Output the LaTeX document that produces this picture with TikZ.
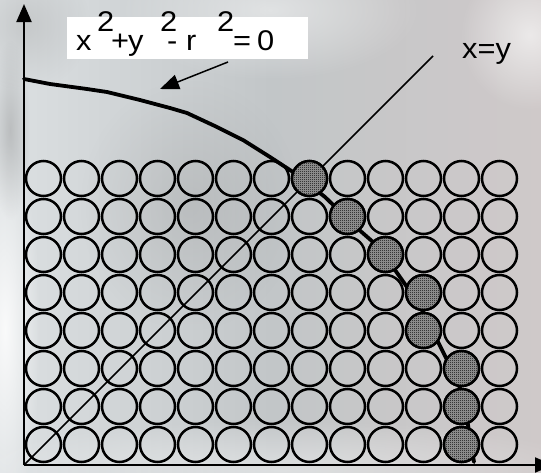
\documentclass[tikz,border=0pt]{standalone}
\usepackage{fontspec}
\setmainfont{Liberation Sans}
\newfontfamily\eqfont[FakeStretch=1.08]{Liberation Sans}
\usetikzlibrary{arrows.meta,patterns.meta,fadings}
\tikzdeclarepattern{
  name=finecheck,
  type=uncolored,
  bottom left={(0pt,0pt)},
  top right={(2pt,2pt)},
  tile size={(2pt,2pt)},
  code={
    \pgfpathrectangle{\pgfpoint{0pt}{0pt}}{\pgfpoint{1pt}{1pt}}
    \pgfpathrectangle{\pgfpoint{1pt}{1pt}}{\pgfpoint{1pt}{1pt}}
    \pgfusepath{fill}
  }
}
\tikzfading[name=blob, inner color=transparent!0, outer color=transparent!100]
\definecolor{bgmid}{HTML}{C2C6C8}
\definecolor{bgleft}{HTML}{DCE0E2}
\definecolor{bgright}{HTML}{CFC9C9}
\definecolor{markfill}{HTML}{A0A0A0}
\newcommand\glyphat[3]{\rlap{\hspace*{#1pt}\raisebox{#2pt}{#3}}}
\begin{document}
\begin{tikzpicture}[x=1pt,y=-1pt,
  plain/.style={circle,draw,line width=2.5pt,minimum size=35pt,inner sep=0pt},
  marked/.style={plain,fill=markfill,postaction={pattern={finecheck},pattern color=black}},
  axis/.style={line width=2.1pt,-{Triangle[length=18pt,width=15pt]}},
  curve/.style={line width=3.8pt,line join=round,line cap=round},
  diag/.style={line width=1.7pt},
  lbl/.style={font=\eqfont\fontsize{28.5}{28.5}\selectfont,inner sep=0pt}]
\useasboundingbox (0,0) rectangle (541,472);
\clip (0,0) rectangle (541,472);
% background
\shade[left color=bgleft,right color=bgright,middle color=bgmid] (0,0) rectangle (541,472);
\fill[white,opacity=0.85,path fading=blob] (-30,140) rectangle (40,520);
\fill[white,opacity=0.5,path fading=blob] (120,-60) rectangle (420,80);
\fill[white,opacity=0.6,path fading=blob] (460,-40) rectangle (600,110);
\fill[black!45,opacity=0.25,path fading=blob] (80,80) rectangle (300,330);
\fill[black!50,opacity=0.35,path fading=blob] (-10,40) rectangle (30,220);
\fill[black!40,opacity=0.3,path fading=blob] (-40,-40) rectangle (90,90);
\fill[white,opacity=0.45,path fading=blob] (-40,420) rectangle (600,520);
% coordinates
\coordinate (O) at (24,465);
\coordinate (Ytop) at (24,4);
\coordinate (Xend) at (553,465);
\coordinate (Dend) at (433,56);
% diagonal x=y
\draw[diag] (O) -- (Dend);
% curve
\draw[curve] (24,79) -- (50,84) -- (87,89) -- (107,92) -- (140,100) -- (170,108)
  -- (187,113) -- (217,127) -- (243,140) -- (270,157) -- (293,172) -- (325,197)
  -- (357,228) -- (373,242) -- (395,270) -- (407,287) -- (423,312) -- (438,342)
  -- (447,360) -- (460,388) -- (468,425) -- (474,462);
% circles
\foreach \r in {1,...,8}{
  \foreach \c in {1,...,13}{
    \node[plain] (c-\r-\c) at ({43.5+38*(\c-1)},{178.5+38*(\r-1)}) {};
  }
}
\foreach \r/\c in {1/8,2/9,3/10,4/11,5/11,6/12,7/12,8/12}{
  \node[marked] (s-\r-\c) at ({43.5+38*(\c-1)},{178.5+38*(\r-1)}) {};
}
% axes
\draw[axis] (O) -- (Ytop);
\draw[axis] (O) -- (Xend);
% equation label
\fill[white] (67,17) rectangle (308,59);
\node[lbl,anchor=base west] (eq) at (76,50) {\glyphat{0}{0}{x}\glyphat{21}{19}{2}\glyphat{35}{0}{+}\glyphat{52}{0}{y}\glyphat{84}{19}{2}\glyphat{91}{0}{-}\glyphat{110}{0}{r}\glyphat{141}{19}{2}\glyphat{157}{0}{=}\glyphat{181}{0}{0}\hspace*{197pt}};
\coordinate (eqarrow) at (228,62);
\coordinate (curvept) at (160,89);
\draw[line width=1.5pt,-{Triangle[length=19pt,width=15pt]}] (eqarrow) -- (curvept);
% x=y label
\node[lbl,anchor=base west] (xy) at (462,58) {x=y};
\end{tikzpicture}
\end{document}
